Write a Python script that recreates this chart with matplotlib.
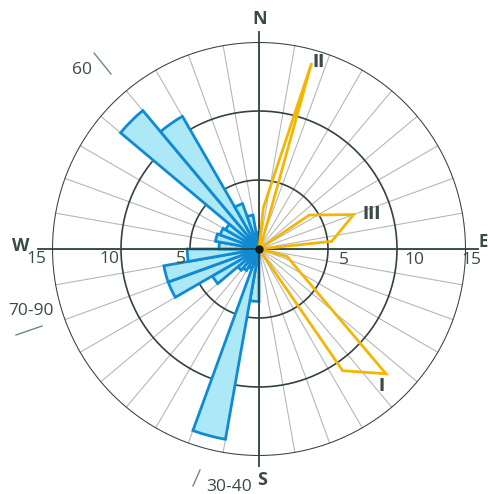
import numpy as np
import matplotlib
matplotlib.use("Agg")
import matplotlib.pyplot as plt

# ---- data ----
# blue rose: 10-degree bins (start azimuth, clockwise from N)
bin_starts = [180, 190, 200, 210, 220, 230, 240, 250, 260,
              270, 280, 290, 300, 310, 320, 330, 340, 350]
bin_values = [3.8, 14.0, 1.5, 1.8, 2.0, 3.9, 7.0, 7.0, 5.2,
              2.9, 3.2, 3.0, 2.8, 13.1, 11.1, 3.5, 2.5, 1.2]

# orange outline roses (azimuth deg, value)
poly_I_az = [0, 105, 134.5, 145.5, 0]
poly_I_r = [0, 2.1, 12.9, 10.7, 0]
poly_II_az = [0, 6, 15.8, 22, 0]
poly_II_r = [0, 3.0, 14.0, 0.6, 0]
poly_III_az = [0, 56, 70, 84, 0]
poly_III_r = [0, 4.4, 7.3, 5.3, 0]
poly_labels = ["I", "II", "III"]

ring_values = [5, 10, 15]
ring_labels = ["5", "10", "15"]
compass = ["N", "E", "S", "W"]
dip_labels = ["60", "70-90", "30-40"]

W, H = 488, 494
fig = plt.figure(figsize=(W / 100, H / 100), dpi=100)
cx, cy, R = 259, 249, 207
ax = fig.add_axes([(cx - R) / W, (H - cy - R) / H, 2 * R / W, 2 * R / H],
                  projection="polar")
ax.set_theta_zero_location("N")
ax.set_theta_direction(-1)
ax.set_ylim(0, 15)
ax.grid(False)
ax.set_xticks([])
ax.set_yticks([])
ax.spines["polar"].set_visible(False)
ax.patch.set_alpha(0)

dark = "#33423c"
spoke = "#b5b8b7"
txt = "#3a4a44"

# spokes every 10 deg
for a in range(0, 360, 10):
    ax.plot([np.radians(a)] * 2, [0, 15], color=spoke, lw=0.8, zorder=1)

# rings
th = np.linspace(0, 2 * np.pi, 400)
for rv in ring_values:
    ax.plot(th, [rv] * len(th), color=dark, lw=1.5 if rv == 15 else 1.2,
            zorder=2)

# blue bars
width = np.radians(10)
centers = np.radians(np.array(bin_starts) + 5)
ax.bar(centers, bin_values, width=width, bottom=0, color="#ade8f6",
       edgecolor="#108bd3", linewidth=2.0, zorder=3, align="center")

# main axes N-S, E-W
for a, ext in [(0, 15.7), (90, 15.9), (180, 15.7), (270, 16.0)]:
    ax.plot([np.radians(a)] * 2, [0, ext], color=dark, lw=1.3, zorder=4,
            clip_on=False)

# orange polygons
orange = "#f2b705"
for az, rr in [(poly_I_az, poly_I_r), (poly_II_az, poly_II_r),
               (poly_III_az, poly_III_r)]:
    ax.plot(np.radians(az), rr, color=orange, lw=2.0, zorder=5,
            solid_joinstyle="miter")

ax.plot([0], [0], marker="o", ms=5, color="#1a1a1a", zorder=6)


def ftext(x, y, s, **kw):
    fig.text(x / W, 1 - y / H, s, **kw)


# polygon labels
ftext(313, 62, poly_labels[1], fontsize=12, fontweight="bold", color=txt,
      va="center", ha="left", family="DejaVu Sans")
ftext(362, 214, poly_labels[2], fontsize=12, fontweight="bold", color=txt,
      va="center", ha="left", family="DejaVu Sans")
ftext(378, 386, poly_labels[0], fontsize=12, fontweight="bold", color=txt,
      va="center", ha="left", family="DejaVu Sans")

# ring labels
for rv, lab, xw, xe in zip(ring_values, ring_labels, [181, 109, 36], [344, 414, 471]):
    ftext(xw, 259, lab, fontsize=12.5, color=txt, ha="center", va="center",
          family="Open Sans")
    ftext(xe, 260, lab, fontsize=12.5, color=txt, ha="center", va="center",
          family="Open Sans")

# compass letters
ftext(260, 19, compass[0], fontsize=13, fontweight="bold", color=txt,
      ha="center", va="center", family="Open Sans")
ftext(483, 242, compass[1], fontsize=12, fontweight="bold", color=txt,
      ha="center", va="center", family="Open Sans")
ftext(262, 480, compass[2], fontsize=13, fontweight="bold", color=txt,
      ha="center", va="center", family="Open Sans")
ftext(21, 246, compass[3], fontsize=13, fontweight="bold", color=txt,
      ha="center", va="center", family="Open Sans")

# dip labels with tick strokes
ftext(82, 70, dip_labels[0], fontsize=12.5, color=txt, ha="center",
      va="center", family="Open Sans")
ftext(31, 311, dip_labels[1], fontsize=12.5, color=txt, ha="center",
      va="center", family="Open Sans")
ftext(229, 487, dip_labels[2], fontsize=12.5, color=txt, ha="center",
      va="center", family="Open Sans")

for (x0, y0, x1, y1) in [(94, 53, 111, 74), (16, 335, 42, 326),
                         (193, 486, 200, 470)]:
    fig.add_artist(plt.Line2D([x0 / W, x1 / W], [1 - y0 / H, 1 - y1 / H],
                              color="#6f8a80", lw=1.0))

fig.savefig("out.png", dpi=100)
